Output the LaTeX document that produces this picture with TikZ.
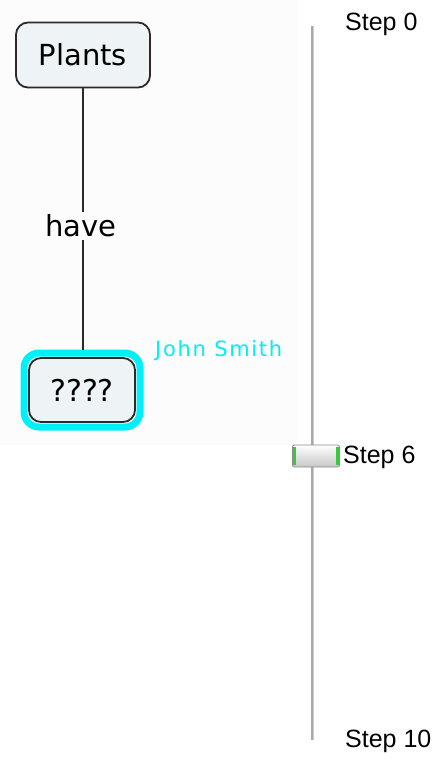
\documentclass[tikz,border=0pt]{standalone}
\usepackage{fontspec}
\setmainfont{DejaVu Sans}
\newfontfamily\stepfont{Liberation Sans}
\newfontfamily\authorfont[LetterSpace=8]{DejaVu Sans}
\definecolor{nodefill}{HTML}{EEF3F6}
\definecolor{nodeline}{HTML}{2A2A2A}
\definecolor{hilite}{HTML}{00F0F8}
\definecolor{trackc}{HTML}{A8A8A8}
\definecolor{greenend}{HTML}{3CC83C}
\begin{document}
\begin{tikzpicture}[x=1pt,y=-1pt,
  concept/.style={draw=nodeline,line width=1.8pt,fill=nodefill,rounded corners=12pt,inner sep=0pt,font=\fontsize{29}{32}\selectfont},
  linkword/.style={fill=black!1,inner sep=3pt,font=\fontsize{29}{32}\selectfont},
  steplabel/.style={anchor=west,inner sep=0pt,font=\stepfont\fontsize{25}{28}\selectfont}]
\useasboundingbox (0,0) rectangle (444,760);
\fill[white] (0,0) rectangle (444,760);
\fill[black!1] (0,0) rectangle (298,445);
% concept map
\node[concept,minimum width=134pt,minimum height=65pt] (plants) at (83,55) {Plants};
\node[linkword] (have) at (81,226) {have};
\node[draw=hilite,line width=7pt,rounded corners=15pt,minimum width=116pt,minimum height=74pt,inner sep=0pt] (hl) at (82,390) {};
\node[concept,minimum width=106pt,minimum height=64pt,font=\fontsize{30}{32}\selectfont] (q) at (82,390) {????};
\draw[nodeline,line width=1.8pt] (plants.south) -- (plants.south |- have.north);
\draw[nodeline,line width=1.8pt] (plants.south |- have.south) -- (plants.south |- hl.north);
\node[anchor=west,text=hilite,inner sep=0pt,font=\authorfont\fontsize{21}{24}\selectfont] (author) at (155,351) {John Smith};
% slider
\coordinate (ttop) at (312,26);
\coordinate (tbot) at (312,740);
\draw[trackc,line width=3pt] (ttop) -- (tbot);
\draw[black!20,line width=1pt] ([xshift=1.5pt]ttop) -- ([xshift=1.5pt]tbot);
\node[steplabel] (s0) at (345,24) {Step 0};
\node[steplabel] (s6) at (343,457) {Step 6};
\node[steplabel] (s10) at (345,741) {Step 10};
\node[draw=black!45,line width=0.8pt,rounded corners=2pt,minimum width=47pt,minimum height=22pt,inner sep=0pt,
  top color=white,bottom color=black!22] (thumb) at (316,456) {};
\fill[greenend] ([xshift=1pt,yshift=9pt]thumb.west) rectangle ++(3,18);
\fill[greenend] ([xshift=-4pt,yshift=9pt]thumb.east) rectangle ++(3,18);
\end{tikzpicture}
\end{document}
